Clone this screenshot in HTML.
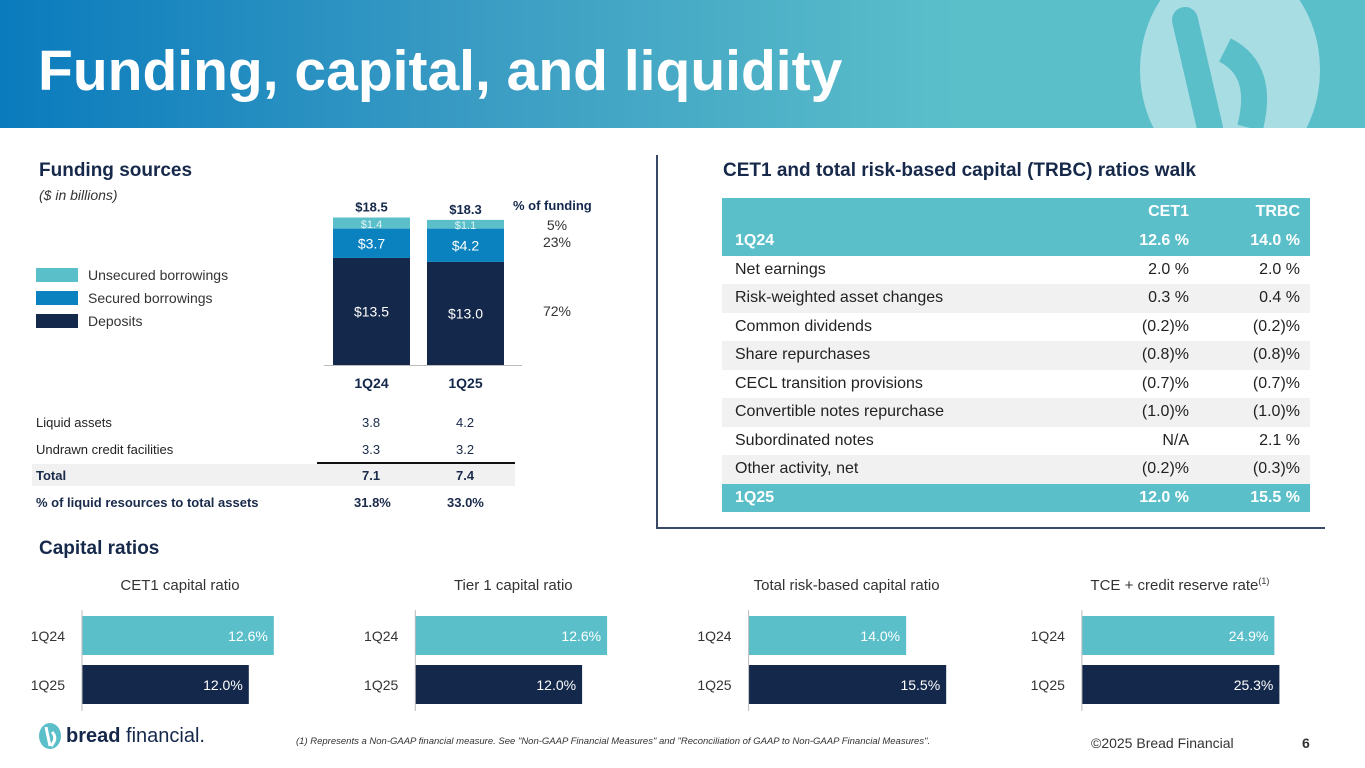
<!DOCTYPE html>
<html><head><meta charset="utf-8"><style>
body{margin:0;width:1365px;height:768px;position:relative;overflow:hidden;background:#fff;font-family:"Liberation Sans",sans-serif;color:#1a2a4a}
.a{position:absolute;white-space:nowrap}
.h{font-weight:bold;font-size:19px;color:#17294a}
.tr{position:absolute;left:722px;width:588px;height:28.5px;font-size:16px;line-height:28.5px;color:#222}
.tr span{position:absolute}
.tr .l{left:13px}.tr .c{right:121px}.tr .t{right:10px}
.teal{background:#5bbfca;color:#fff;font-weight:bold}
.g{background:#f1f1f1}
</style></head><body>
<div class="a" style="left:0;top:0;width:1365px;height:128px;background:linear-gradient(90deg,#0a7bbd 0%,#3a9cc3 35%,#5bbfca 70%,#5bbfca 100%)"></div>
<svg class="a" style="left:1130px;top:0" width="210" height="128"><ellipse cx="100" cy="70" rx="90" ry="110" fill="#a7dde3"/><path d="M55 20 L80 128" stroke="#5bbfca" stroke-width="26" stroke-linecap="round"/><path d="M95 50 Q135 70 120 128" stroke="#5bbfca" stroke-width="26" fill="none"/></svg>
<div class="a" style="left:38px;top:38px;font-size:57px;font-weight:bold;color:#fff">Funding, capital, and liquidity</div>

<div class="a h" style="left:39px;top:160px">Funding sources</div>
<div class="a" style="left:39px;top:187px;font-size:14px;font-style:italic;color:#333">($ in billions)</div>
<div class="a" style="left:36px;top:268px;width:42px;height:14px;background:#5bbfca"></div>
<div class="a" style="left:88px;top:267px;font-size:14px;color:#333">Unsecured borrowings</div>
<div class="a" style="left:36px;top:291px;width:42px;height:14px;background:#0a82c0"></div>
<div class="a" style="left:88px;top:290px;font-size:14px;color:#333">Secured borrowings</div>
<div class="a" style="left:36px;top:314px;width:42px;height:14px;background:#14284b"></div>
<div class="a" style="left:88px;top:313px;font-size:14px;color:#333">Deposits</div>
<svg class="a" id="fund" style="left:300px;top:190px" width="320" height="210"></svg>

<div class="a" style="left:36px;top:415px;font-size:13px;color:#222">Liquid assets</div>
<div class="a" style="left:362px;top:415px;font-size:13px">3.8</div><div class="a" style="left:456px;top:415px;font-size:13px">4.2</div>
<div class="a" style="left:36px;top:442px;font-size:13px;color:#222">Undrawn credit facilities</div>
<div class="a" style="left:362px;top:442px;font-size:13px">3.3</div><div class="a" style="left:456px;top:442px;font-size:13px">3.2</div>
<div class="a" style="left:32px;top:464px;width:483px;height:22px;background:#f1f1f1"></div>
<div class="a" style="left:317px;top:462px;width:198px;height:1.5px;background:#111"></div>
<div class="a" style="left:36px;top:468px;font-size:13px;font-weight:bold">Total</div>
<div class="a" style="left:362px;top:468px;font-size:13px;font-weight:bold">7.1</div><div class="a" style="left:456px;top:468px;font-size:13px;font-weight:bold">7.4</div>
<div class="a" style="left:36px;top:495px;font-size:13px;font-weight:bold">% of liquid resources to total assets</div>
<div class="a" style="left:354px;top:495px;font-size:13px;font-weight:bold">31.8%</div><div class="a" style="left:447px;top:495px;font-size:13px;font-weight:bold">33.0%</div>

<div class="a" style="left:656px;top:155px;width:2px;height:373px;background:#3a4a66"></div>
<div class="a" style="left:656px;top:527px;width:669px;height:2px;background:#3a4a66"></div>

<div class="a h" style="left:723px;top:160px">CET1 and total risk-based capital (TRBC) ratios walk</div>
<div id="walk"></div>

<div class="a h" style="left:39px;top:538px">Capital ratios</div>
<svg class="a" id="caps" style="left:0;top:560px" width="1365" height="160"></svg>

<svg class="a" style="left:38px;top:722px" width="30" height="28"><ellipse cx="12" cy="14" rx="11" ry="13" fill="#5bbfca"/><path d="M8 5 L12 24 M14 10 Q20 16 13 24" stroke="#fff" stroke-width="3" fill="none"/></svg>
<div class="a" style="left:66px;top:725px;font-size:20px;color:#14284b"><b>bread</b> financial.</div>
<div class="a" style="left:296px;top:736px;font-size:9.5px;font-style:italic;color:#333">(1) Represents a Non-GAAP financial measure. See "Non-GAAP Financial Measures" and "Reconciliation of GAAP to Non-GAAP Financial Measures".</div>
<div class="a" style="left:1091px;top:735px;font-size:14px;color:#333">©2025 Bread Financial</div>
<div class="a" style="left:1302px;top:735px;font-size:14px;font-weight:bold;color:#333">6</div>

<script>
const NS="http://www.w3.org/2000/svg";
function mk(p,t,at,tx){const e=document.createElementNS(NS,t);for(const k in at)e.setAttribute(k,at[k]);if(tx!==undefined)e.textContent=tx;p.appendChild(e);return e;}
// funding chart data
const quarters=["1Q24","1Q25"];
const deposits=[13.5,13.0];
const secured=[3.7,4.2];
const unsecured=[1.4,1.1];
const totals=["$18.5","$18.3"];
const pctFunding=["5%","23%","72%"];
const f=document.getElementById('fund');
const base=175,k=7.93,bx=[33,127],bw=77;
const y=v=>base-v*k;
quarters.forEach((q,i)=>{
  const segs=[[deposits[i],"#14284b",14],[secured[i],"#0a82c0",14],[unsecured[i],"#5bbfca",11]];
  let acc=0;
  segs.forEach(([v,c,fs],j)=>{
    const r=mk(f,'rect',{x:bx[i],y:y(acc+v),width:bw,height:v*k,fill:c});
    
    
    mk(f,'text',{x:bx[i]+bw/2,y:y(acc+v/2)+5,'text-anchor':'middle','font-size':fs,fill:j==2?'#e0f4f6':'#fff'},'$'+v.toFixed(1));
    acc+=v;
  });
  mk(f,'text',{x:bx[i]+bw/2,y:y(acc)-6,'text-anchor':'middle','font-size':13,'font-weight':'bold',fill:'#14284b'},totals[i]);
  mk(f,'text',{x:bx[i]+bw/2,y:198,'text-anchor':'middle','font-size':14,'font-weight':'bold',fill:'#14284b'},q);
});
mk(f,'line',{x1:24,x2:222,y1:base+.5,y2:base+.5,stroke:'#bbb'});
mk(f,'text',{x:213,y:20,'font-size':13,'font-weight':'bold',fill:'#14284b'},'% of funding');
[40,57,126].forEach((yy,i)=>mk(f,'text',{x:257,y:yy,'text-anchor':'middle','font-size':14,fill:'#333'},pctFunding[i]));

// walk table
const walkLabels=["1Q24","Net earnings","Risk-weighted asset changes","Common dividends","Share repurchases","CECL transition provisions","Convertible notes repurchase","Subordinated notes","Other activity, net","1Q25"];
const walkCET1=["12.6 %","2.0 %","0.3 %","(0.2)%","(0.8)%","(0.7)%","(1.0)%","N/A","(0.2)%","12.0 %"];
const walkTRBC=["14.0 %","2.0 %","0.4 %","(0.2)%","(0.8)%","(0.7)%","(1.0)%","2.1 %","(0.3)%","15.5 %"];
const w=document.getElementById('walk');
let html='<div class="tr teal" style="top:198px"><span class="c">CET1</span><span class="t">TRBC</span></div>';
walkLabels.forEach((l,i)=>{
  const cls=(i==0||i==9)?'teal':(i%2==0?'g':'');
  html+=`<div class="tr ${cls}" style="top:${227+i*28.5}px"><span class="l">${l}</span><span class="c">${walkCET1[i]}</span><span class="t">${walkTRBC[i]}</span></div>`;
});
w.innerHTML=html;

// capital ratio bar charts
const capTitles=["CET1 capital ratio","Tier 1 capital ratio","Total risk-based capital ratio","TCE + credit reserve rate"];
const cap1Q24=[12.6,12.6,14.0,24.9];
const cap1Q25=[12.0,12.0,15.5,25.3];
const capMin=[8,8,8.1,9.5];
const capScale=[41.7,41.7,26.7,12.5];
const c=document.getElementById('caps');
capTitles.forEach((t,i)=>{
  const x0=82+i*333.3;
  const tt=mk(c,'text',{x:x0+98,y:30,'text-anchor':'middle','font-size':15,fill:'#333'},t);
  if(i==3){const s=mk(c,'tspan',{'font-size':9,dy:-6},'(1)');tt.appendChild(s);}
  [[cap1Q24[i],'#5bbfca',56,'1Q24'],[cap1Q25[i],'#14284b',105,'1Q25']].forEach(([v,col,yy,q])=>{
    const wv=(v-capMin[i])*capScale[i];
    const r=mk(c,'rect',{x:x0,y:yy,width:wv,height:39,fill:col});
    
    
    mk(c,'text',{x:x0+wv-6,y:yy+25,'text-anchor':'end','font-size':14,fill:'#fff'},v.toFixed(1)+'%');
    mk(c,'text',{x:x0-17,y:yy+25,'text-anchor':'end','font-size':14,fill:'#333'},q);
  });
  mk(c,'line',{x1:x0,x2:x0,y1:50,y2:151,stroke:'#bbb'});
});
</script>
</body></html>
